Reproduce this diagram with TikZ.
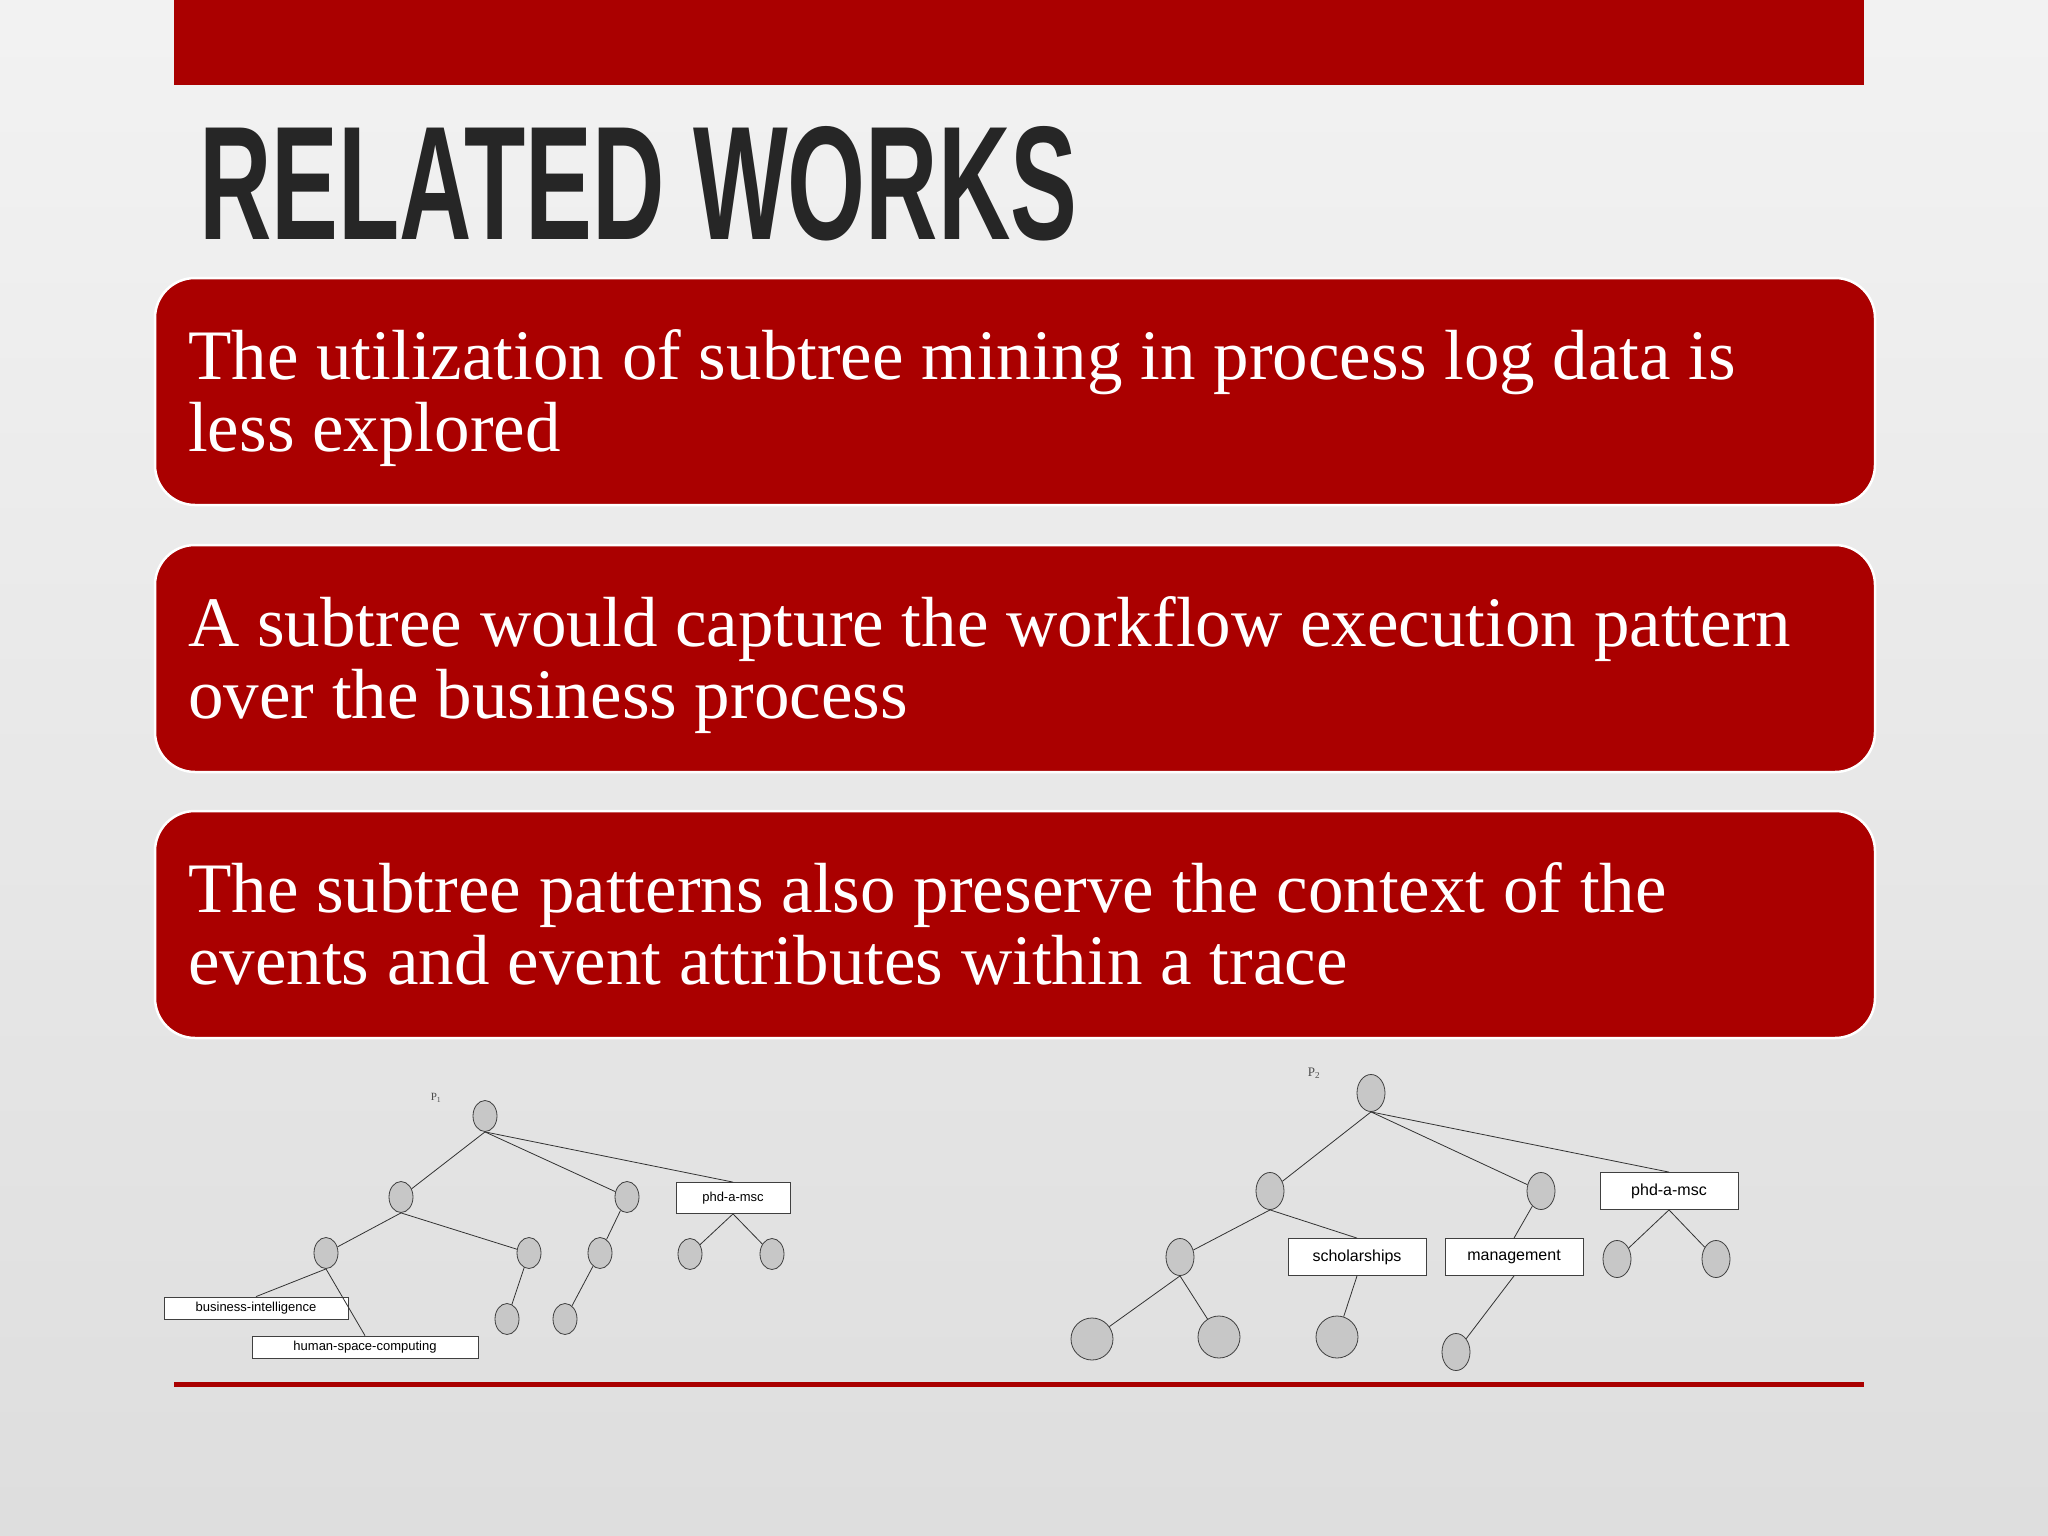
\documentclass[tikz,border=0pt]{standalone}
\usepackage{fontspec}
\usepackage{graphicx}
\setmainfont{Liberation Serif}
\newfontfamily\sansf{Liberation Sans}
\usetikzlibrary{shapes.geometric}
\definecolor{redbar}{HTML}{AA0000}
\definecolor{titlec}{HTML}{262626}
\begin{document}
\begin{tikzpicture}[x=1pt,y=-1pt,
  panel/.style={draw=white,line width=2.5pt,fill=redbar,rounded corners=40pt},
  ptext/.style={anchor=north west,text=white,font=\fontsize{71}{72}\selectfont,align=left,inner sep=0pt},
  nd/.style={ellipse,draw=black!75,fill=black!22,line width=0.8pt,inner sep=0pt},
  nda/.style={nd,minimum width=24pt,minimum height=31pt},
  ndb/.style={nd,minimum width=28pt,minimum height=37pt},
  lbox/.style={draw=black!75,fill=white,line width=0.8pt,inner sep=0pt,font=\sansf\fontsize{13}{13}\selectfont},
  lboxb/.style={draw=black!75,fill=white,line width=0.8pt,inner sep=0pt,font=\sansf\fontsize{16}{16}\selectfont},
  ed/.style={draw=black!80,line width=0.8pt}]
\useasboundingbox (0,0) rectangle (2048,1536);
\shade[top color=black!5,bottom color=black!13] (0,0) rectangle (2048,1536);
\fill[redbar] (174,0) rectangle (1864,85);
\node[anchor=north west,inner sep=0pt,text=titlec] (title) at (199,126) {\resizebox{878pt}{113pt}{\sansf\bfseries RELATED WORKS}};
\draw[panel] (155,278) rectangle (1875,505);
\draw[panel] (155,545) rectangle (1875,772);
\draw[panel] (155,811) rectangle (1875,1038);
\node[ptext] (t1) at (188,329) {The utilization of subtree mining in process log data is\\less explored};
\node[ptext] (t2) at (188,596) {A subtree would capture the workflow execution pattern\\over the business process};
\node[ptext] (t3) at (188,862) {The subtree patterns also preserve the context of the\\events and event attributes within a trace};
\fill[redbar] (174,1382) rectangle (1864,1387);
% tree 1
\node[font=\fontsize{11}{11}\selectfont,text=black!70] (p1) at (436,1098) {P\textsubscript{1}};
\node[nda] (r1) at (485,1116) {};
\node[nda] (a1) at (401,1197) {};
\node[nda] (b1) at (627,1197) {};
\node[lbox,minimum width=114pt,minimum height=31pt] (phd1) at (733,1198) {phd-a-msc};
\node[nda] (c1) at (326,1253) {};
\node[nda] (d1) at (529,1253) {};
\node[nda] (e1) at (600,1253) {};
\node[nda] (f1) at (690,1254) {};
\node[nda] (g1) at (772,1254) {};
\node[lbox,minimum width=184pt,minimum height=22pt] (bi) at (256,1308) {business-intelligence};
\node[lbox,minimum width=226pt,minimum height=22pt] (hsc) at (365,1347) {human-space-computing};
\node[nda] (h1) at (507,1319) {};
\node[nda] (i1) at (565,1319) {};
\draw[ed] (r1.south) -- (a1); \draw[ed] (r1.south) -- (b1); \draw[ed] (r1.south) -- (phd1.north);
\draw[ed] (a1.south) -- (c1); \draw[ed] (a1.south) -- (d1);
\draw[ed] (c1.south) -- (bi.north); \draw[ed] (c1.south) -- (hsc.north);
\draw[ed] (b1) -- (e1); \draw[ed] (e1) -- (i1); \draw[ed] (d1) -- (h1);
\draw[ed] (phd1.south) -- (f1); \draw[ed] (phd1.south) -- (g1);
% tree 2
\node[font=\fontsize{13}{13}\selectfont,text=black!70] (p2) at (1314,1073) {P\textsubscript{2}};
\node[ndb] (r2) at (1371,1093) {};
\node[ndb] (a2) at (1270,1191) {};
\node[ndb] (b2) at (1541,1191) {};
\node[lboxb,minimum width=138pt,minimum height=37pt] (phd2) at (1669,1191) {phd-a-msc};
\node[ndb] (c2) at (1180,1257) {};
\node[lboxb,minimum width=138pt,minimum height=37pt] (sch) at (1357,1257) {scholarships};
\node[lboxb,minimum width=138pt,minimum height=37pt] (mg) at (1514,1257) {management};
\node[ndb] (f2) at (1617,1259) {};
\node[ndb] (g2) at (1716,1259) {};
\node[nd,minimum width=42pt,minimum height=42pt] (h2) at (1092,1339) {};
\node[nd,minimum width=42pt,minimum height=42pt] (i2) at (1219,1337) {};
\node[nd,minimum width=42pt,minimum height=42pt] (j2) at (1337,1337) {};
\node[ndb] (k2) at (1456,1352) {};
\draw[ed] (r2.south) -- (a2); \draw[ed] (r2.south) -- (b2); \draw[ed] (r2.south) -- (phd2.north);
\draw[ed] (a2.south) -- (c2); \draw[ed] (a2.south) -- (sch.north);
\draw[ed] (c2.south) -- (h2); \draw[ed] (c2.south) -- (i2);
\draw[ed] (sch.south) -- (j2); \draw[ed] (b2) -- (mg.north); \draw[ed] (mg.south) -- (k2);
\draw[ed] (phd2.south) -- (f2); \draw[ed] (phd2.south) -- (g2);
\end{tikzpicture}
\end{document}
